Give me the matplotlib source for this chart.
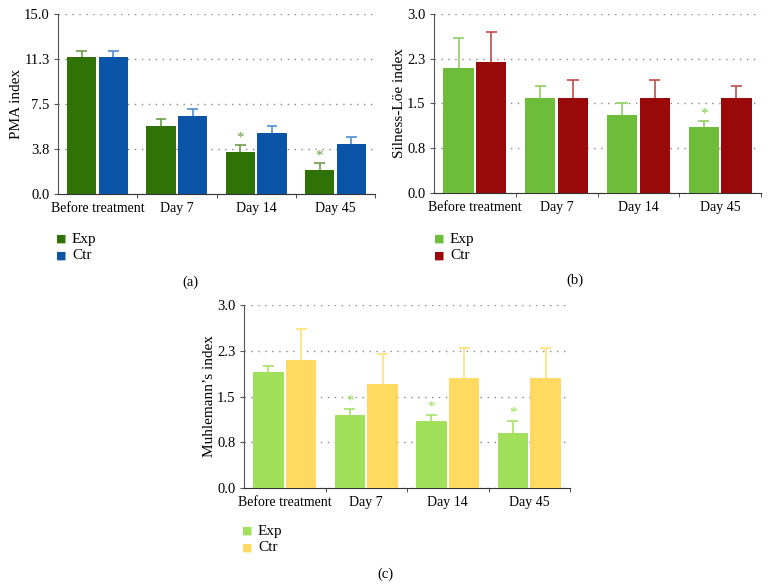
import matplotlib
matplotlib.use("Agg")
import matplotlib.pyplot as plt
import numpy as np

plt.rcParams['font.family'] = ['Liberation Serif', 'DejaVu Serif']

categories = ["Before treatment", "Day 7", "Day 14", "Day 45"]
series_names = ["Exp", "Ctr"]

# Panel (a) PMA index
pma_exp = [11.4, 5.7, 3.5, 2.0]
pma_exp_err = [0.5, 0.55, 0.55, 0.55]
pma_ctr = [11.4, 6.5, 5.1, 4.2]
pma_ctr_err = [0.5, 0.55, 0.55, 0.55]
pma_sig = [False, False, True, True]
pma_ticks = [0, 3.75, 7.5, 11.25, 15.0]
pma_ticklabels = ["0.0", "3.8", "7.5", "11.3", "15.0"]

# Panel (b) Silness-Löe index
sl_exp = [2.1, 1.6, 1.3, 1.1]
sl_exp_err = [0.5, 0.2, 0.2, 0.1]
sl_ctr = [2.2, 1.6, 1.6, 1.6]
sl_ctr_err = [0.5, 0.3, 0.3, 0.2]
sl_sig = [False, False, False, True]

# Panel (c) Muhlemann's index
mu_exp = [1.9, 1.2, 1.1, 0.9]
mu_exp_err = [0.1, 0.1, 0.1, 0.2]
mu_ctr = [2.1, 1.7, 1.8, 1.8]
mu_ctr_err = [0.5, 0.5, 0.5, 0.5]
mu_sig = [False, True, True, True]

small_ticks = [0, 0.75, 1.5, 2.25, 3.0]
small_ticklabels = ["0.0", "0.8", "1.5", "2.3", "3.0"]

W, H = 772, 587
fig = plt.figure(figsize=(W / 100, H / 100), dpi=100)


def px_axes(left, right, top, bottom):
    return fig.add_axes([left / W, 1 - bottom / H, (right - left) / W, (bottom - top) / H])


def panel(ax, exp, exp_err, ctr, ctr_err, sig, colors, err_colors, star_color, ymax, ticks,
          ticklabels, ylabel, legend_xy, label, label_xy):
    x = np.arange(len(categories))
    bw = 0.37
    off = 0.2
    for vals, errs, c, ec, sgn in [(exp, exp_err, colors[0], err_colors[0], -1),
                                  (ctr, ctr_err, colors[1], err_colors[1], 1)]:
        xs = x + sgn * off
        vals = np.array(vals)
        errs = np.array(errs)
        ax.vlines(xs, vals, vals + errs, color=ec, lw=1.2, zorder=2)
        ax.hlines(vals + errs, xs - 0.068, xs + 0.068, color=ec, lw=1.2, zorder=2)
        ax.bar(xs, vals, width=bw, color=c, zorder=3)
    for i, s in enumerate(sig):
        if s:
            ax.text(x[i] - off, exp[i] + exp_err[i] + ymax * 0.005, "*", color=star_color,
                    ha='center', va='bottom', fontsize=11, zorder=4)
    ax.set_xlim(-0.5, 3.5)
    ax.set_ylim(0, ymax)
    ax.set_yticks(ticks)
    ax.set_yticklabels(ticklabels, fontsize=10.5)
    ax.set_xticks(x)
    ax.set_xticklabels(categories, fontsize=10)
    ax.set_xticks([0.5, 1.5, 2.5, 3.5], minor=True)
    ax.tick_params(axis='x', which='major', length=0, pad=6)
    ax.tick_params(axis='x', which='minor', length=3, direction='out', color='#333333')
    ax.tick_params(axis='y', length=3, direction='out', color='#555555', pad=3)
    ax.spines['top'].set_visible(False)
    ax.spines['right'].set_visible(False)
    ax.spines['left'].set_color('#555555')
    ax.spines['bottom'].set_color('#333333')
    ax.grid(axis='y', linestyle=(0, (1, 4)), color='#888888', lw=1)
    ax.set_axisbelow(True)
    ax.set_ylabel(ylabel, fontsize=11, labelpad=1)
    # legend
    lx, ly = legend_xy
    for k, (name, c) in enumerate(zip(series_names, colors)):
        yy = ly + k * 16.5
        fig.text(lx / W, 1 - yy / H, "\u25a0", color=c, fontsize=8, ha='center', va='center',
                 family='DejaVu Sans')
        fig.text((lx + 11) / W, 1 - yy / H, name, fontsize=11, ha='left', va='center')
    fig.text(label_xy[0] / W, 1 - label_xy[1] / H, label, fontsize=10.5, ha='center', va='center')


ax_a = px_axes(58, 375, 14, 194)
panel(ax_a, pma_exp, pma_exp_err, pma_ctr, pma_ctr_err, pma_sig,
      ["#2f7307", "#0b55a8"], ["#6f9c48", "#4f8fd8"], "#6f9c48", 15.0, pma_ticks, pma_ticklabels,
      "PMA index", (61, 239), "(a)", (190, 282))

ax_b = px_axes(434, 761, 14, 193)
panel(ax_b, sl_exp, sl_exp_err, sl_ctr, sl_ctr_err, sl_sig,
      ["#6dbd3a", "#990909"], ["#8fd060", "#c24a4a"], "#7cc64a", 3.0, small_ticks,
      small_ticklabels, "Silness-Löe index", (439, 239), "(b)", (575, 280))

ax_c = px_axes(244, 570, 305, 488)
panel(ax_c, mu_exp, mu_exp_err, mu_ctr, mu_ctr_err, mu_sig,
      ["#a0e05a", "#ffd960"], ["#a8e26a", "#ffe07a"], "#98dc52", 3.0, small_ticks,
      small_ticklabels, "Muhlemann\u2019s index", (247, 531), "(c)", (385, 574))

fig.savefig("out.png", dpi=100)
